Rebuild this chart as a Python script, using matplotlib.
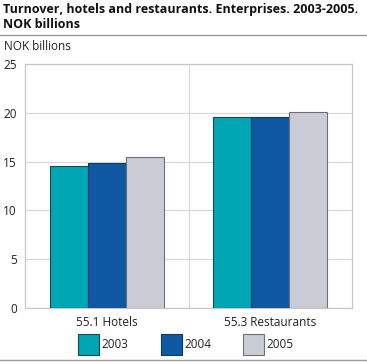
import matplotlib.pyplot as plt
import matplotlib.patches as patches
import numpy as np

categories = ['55.1 Hotels', '55.3 Restaurants']
years = ['2003', '2004', '2005']
values = [
    [14.5, 19.6],   # 2003
    [14.9, 19.6],   # 2004
    [15.5, 20.1],   # 2005
]
colors = ['#00a6b4', '#0e58a3', '#c9ccd4']
edges = ['#1a4a50', '#123a66', '#6e7078']

plt.rcParams['font.family'] = ['Open Sans', 'DejaVu Sans']

fig = plt.figure(figsize=(3.67, 3.62), dpi=100)
W, H = 367, 362
ax = fig.add_axes([25 / W, 1 - 308 / H, (352 - 25) / W, (308 - 64) / H])

x = np.arange(len(categories))
bw = 0.233
for i, yr in enumerate(years):
    ax.bar(x + (i - 1) * bw, values[i], width=bw, color=colors[i],
           edgecolor=edges[i], linewidth=0.8, label=yr, zorder=3)

ax.set_xlim(-0.5, 1.5)
ax.set_ylim(0, 25)
ax.set_yticks([0, 5, 10, 15, 20, 25])
ax.set_xticks(x)
ax.set_xticklabels(categories, fontsize=8.5, color='#222222')
ax.tick_params(axis='x', length=0, pad=6)
ax.tick_params(axis='y', length=0, pad=6, labelsize=8.5, labelcolor='#222222')
ax.grid(axis='y', color='#d9d9d9', linewidth=0.9, zorder=0)
ax.axvline(0.5, color='#d9d9d9', linewidth=0.9, zorder=0)
for s in ax.spines.values():
    s.set_color('#c8c8c8')
    s.set_linewidth(0.9)

fig.text(3 / W, 1 - 3 / H, 'Turnover, hotels and restaurants. Enterprises. 2003-2005.\nNOK billions',
         fontsize=9.0, fontweight='bold', va='top', ha='left', linespacing=1.25, color='#111111')
fig.add_artist(plt.Line2D([0, 1], [1 - 35 / H, 1 - 35 / H], color='#999999', linewidth=1))
fig.add_artist(plt.Line2D([0, 1], [1 - 360 / H, 1 - 360 / H], color='#999999', linewidth=1))
fig.text(4 / W, 1 - 47 / H, 'NOK billions', fontsize=8.5, va='center', ha='left', color='#222222')

# legend drawn by hand to match square sizes and spacing
leg_x = [78, 161, 243]
for i, yr in enumerate(years):
    fig.add_artist(patches.Rectangle((leg_x[i] / W, 1 - 355 / H), 21 / W, 21 / H,
                                     facecolor=colors[i], edgecolor=edges[i], linewidth=0.8,
                                     transform=fig.transFigure))
    fig.text((leg_x[i] + 23) / W, 1 - 345 / H, yr, fontsize=8.5, va='center', ha='left',
             color='#222222')

fig.savefig('out.png', dpi=100)
